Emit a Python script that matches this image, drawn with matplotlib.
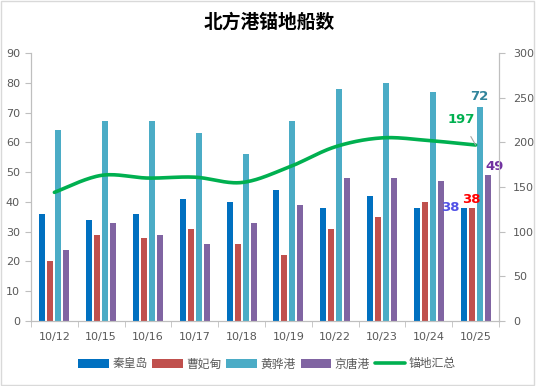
import numpy as np
import matplotlib
matplotlib.use('Agg')
import matplotlib.pyplot as plt
from matplotlib.patches import Rectangle

plt.rcParams['font.family'] = ['DejaVu Sans', 'Noto Sans CJK SC']

dates = ["10/12", "10/15", "10/16", "10/17", "10/18", "10/19", "10/22", "10/23", "10/24", "10/25"]
qhd = [36, 34, 36, 41, 40, 44, 38, 42, 38, 38]      # 秦皇岛
cfd = [20, 29, 28, 31, 26, 22, 31, 35, 40, 38]      # 曹妃甸
hhg = [64, 67, 67, 63, 56, 67, 78, 80, 77, 72]      # 黄骅港
jtg = [24, 33, 29, 26, 33, 39, 48, 48, 47, 49]      # 京唐港
total = [144, 163, 160, 161, 155, 172, 195, 205, 202, 197]  # 锚地汇总

names = ["秦皇岛", "曹妃甸", "黄骅港", "京唐港"]
colors = ["#0070C0", "#C0504D", "#4BACC6", "#8064A2"]
green = "#00B050"
grey = "#595959"
cjk = ['Noto Sans CJK SC', 'DejaVu Sans']


def smooth(x, y, n=30):
    # catmull-rom 平滑, 类似excel的平滑线
    x = np.asarray(x, float)
    y = np.asarray(y, float)
    px = np.concatenate([[x[0]], x, [x[-1]]])
    py = np.concatenate([[y[0]], y, [y[-1]]])
    xs, ys = [], []
    t = np.linspace(0, 1, n)
    for i in range(1, len(px) - 2):
        for p, out in ((px, xs), (py, ys)):
            p0, p1, p2, p3 = p[i - 1], p[i], p[i + 1], p[i + 2]
            out.extend(0.5 * ((2 * p1) + (-p0 + p2) * t
                              + (2 * p0 - 5 * p1 + 4 * p2 - p3) * t ** 2
                              + (-p0 + 3 * p1 - 3 * p2 + p3) * t ** 3))
    return xs, ys


fig = plt.figure(figsize=(5.36, 3.86), dpi=100)
ax = fig.add_axes([31 / 536, 1 - 321 / 386, 468 / 536, 268 / 386])
ax2 = ax.twinx()

x = np.arange(len(dates))
w = 0.128
step = 0.171
series = [qhd, cfd, hhg, jtg]
for i, s in enumerate(series):
    ax.bar(x + (i - 1.5) * step, s, width=w, color=colors[i], label=names[i], zorder=2)

sx, sy = smooth(x, total)
ax2.plot(sx, sy, color=green, lw=2.6, label="锚地汇总", solid_capstyle='round', zorder=3)

ax.set_xlim(-0.5, len(dates) - 0.5)
ax.set_ylim(0, 90)
ax.set_yticks(range(0, 91, 10))
ax2.set_ylim(0, 300)
ax2.set_yticks(range(0, 301, 50))
ax.set_xticks(x)
ax.set_xticklabels(dates)
ax.set_xticks(np.arange(-0.5, len(dates), 1), minor=True)
ax.tick_params(axis='x', which='major', length=0, pad=8, labelsize=8, labelcolor=grey)
ax.tick_params(axis='x', which='minor', length=4, color="#BFBFBF", direction='out')
ax.tick_params(axis='y', length=4, color="#BFBFBF", labelsize=8, labelcolor=grey, pad=4)
ax2.tick_params(axis='y', length=4, color="#BFBFBF", labelsize=8, labelcolor=grey, pad=6)

for a in (ax, ax2):
    a.spines['top'].set_visible(False)
    for side in ('left', 'right', 'bottom'):
        a.spines[side].set_color("#BFBFBF")

# 最后一天的数据标签
last = len(dates) - 1
ax.text(last - 1.5 * step - w / 2 - 0.03, qhd[-1], str(qhd[-1]), color="#5050E6",
        fontsize=9.5, fontweight='bold', ha='right', va='center')
ax.text(last - 0.5 * step, cfd[-1] + 0.6, str(cfd[-1]), color="#FF0000",
        fontsize=9.5, fontweight='bold', ha='center', va='bottom')
ax.text(last + 0.5 * step, hhg[-1] + 1.3, str(hhg[-1]), color="#31849B",
        fontsize=9.5, fontweight='bold', ha='center', va='bottom')
ax.text(last + 1.5 * step - 0.04, jtg[-1] + 0.6, str(jtg[-1]), color="#7030A0",
        fontsize=9.5, fontweight='bold', ha='left', va='bottom')
ax2.annotate(str(total[-1]), xy=(last, total[-1]), xytext=(last - 0.3, total[-1] + 28),
             color=green, fontsize=9.5, fontweight='bold', ha='center', va='center',
             arrowprops=dict(arrowstyle='-', color="#A6A6A6", lw=0.8, shrinkA=6, shrinkB=0))

fig.text(269 / 536, 1 - 22 / 386, "北方港锚地船数", family=cjk, fontsize=13.5,
         fontweight='bold', ha='center', va='center', color="black")

h1, l1 = ax.get_legend_handles_labels()
h2, l2 = ax2.get_legend_handles_labels()
leg = fig.legend(h1 + h2, l1 + l2, loc='center', bbox_to_anchor=(267 / 536, 1 - 364 / 386),
                 ncol=5, frameon=False, prop={'family': cjk, 'size': 8.5},
                 handlelength=2.6, handletextpad=0.3, columnspacing=0.4, labelcolor=grey)

fig.patches.append(Rectangle((0.002, 0.003), 0.995, 0.994, transform=fig.transFigure,
                             fill=False, edgecolor="#D9D9D9", lw=1))

fig.savefig("out.png", dpi=100)
